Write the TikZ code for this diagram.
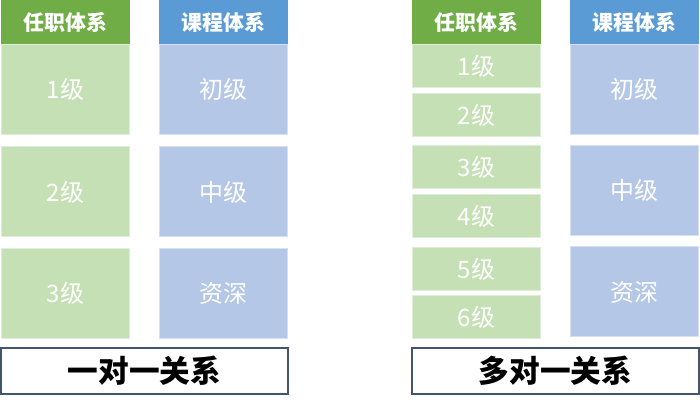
\documentclass[tikz,border=0pt]{standalone}
\usepackage{fontspec}
\usepackage{xcolor}
\usepackage{tikz}
\usetikzlibrary{positioning}
\setmainfont{Noto Sans CJK SC}
\definecolor{hdgreen}{HTML}{70AD47}
\definecolor{hdblue}{HTML}{5B9BD5}
\definecolor{lvgreen}{HTML}{C5E0B4}
\definecolor{lvblue}{HTML}{B4C7E7}
\definecolor{frame}{HTML}{44546A}

\begin{document}
\begin{tikzpicture}[x=0.75pt,y=-0.75pt,
  head/.style={inner sep=0pt,minimum width=96.75pt,minimum height=33pt,
    text=white,font=\fontsize{15.7}{17}\selectfont\bfseries},
  greenhead/.style={head,fill=hdgreen},
  bluehead/.style={head,fill=hdblue},
  lvl/.style={inner sep=0pt,minimum width=96pt,line width=0.75pt,
    text=white,font=\fontsize{18}{20}\selectfont},
  greenlvl/.style={lvl,fill=lvgreen,draw=lvgreen!55!white},
  bluelvl/.style={lvl,fill=lvblue,draw=lvblue!55!white},
  tall/.style={minimum height=67.5pt},
  short/.style={minimum height=32.25pt},
  caption/.style={draw=frame,line width=0.9pt,fill=white,inner sep=0pt,
    minimum width=215.25pt,minimum height=34.5pt,
    font=\fontsize{23}{26}\selectfont\bfseries}]
  \useasboundingbox (0,0) rectangle (700,409);
  % one-to-one
  \node[greenhead] (lhgreen) at (65.5,22) {任职体系};
  \node[bluehead]  (lhblue)  at (223.5,22) {课程体系};
  \node[greenlvl,tall] (lone)   at (65.5,89.5)  {1级};
  \node[greenlvl,tall] (ltwo)   at (65.5,192)   {2级};
  \node[greenlvl,tall] (lthree) at (65.5,293.5) {3级};
  \node[bluelvl,tall] (lbasic)  at (223.5,89.5)  {初级};
  \node[bluelvl,tall] (lmid)    at (223.5,192)   {中级};
  \node[bluelvl,tall] (lsenior) at (223.5,293.5) {资深};
  \node[caption] (lcap) at (144.5,371) {一对一关系};
  % many-to-one
  \node[greenhead] (rhgreen) at (476.5,22) {任职体系};
  \node[bluehead]  (rhblue)  at (634.5,22) {课程体系};
  \node[greenlvl,short] (rone)   at (476.5,66)  {1级};
  \node[greenlvl,short] (rtwo)   at (476.5,115) {2级};
  \node[greenlvl,short] (rthree) at (476.5,167) {3级};
  \node[greenlvl,short] (rfour)  at (476.5,216) {4级};
  \node[greenlvl,short] (rfive)  at (476.5,269) {5级};
  \node[greenlvl,short] (rsix)   at (476.5,317.5) {6级};
  \node[bluelvl,tall] (rbasic)  at (634.5,89.5)  {初级};
  \node[bluelvl,tall] (rmid)    at (634.5,190.5) {中级};
  \node[bluelvl,tall] (rsenior) at (634.5,292)   {资深};
  \node[caption] (rcap) at (555.5,371) {多对一关系};
\end{tikzpicture}
\end{document}
